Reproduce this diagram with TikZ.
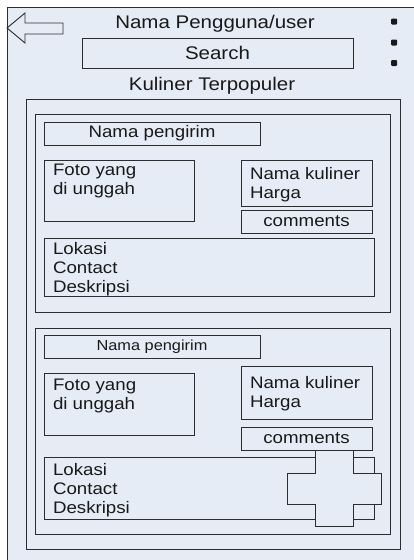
\documentclass[tikz,border=0pt]{standalone}
\usepackage{fontspec}
\setmainfont{Liberation Sans}[FakeStretch=1.12]
\usetikzlibrary{positioning}
\definecolor{screenBg}{RGB}{230,236,246}
\definecolor{lineGray}{RGB}{45,45,45}

\begin{document}
\begin{tikzpicture}[
    x = 1pt,
    y = -1pt,
    line width = 0.9pt,
    every node/.style = {inner sep = 0pt, outer sep = 0pt, text = black!90},
    box/.style = {rectangle, draw = lineGray, anchor = north west},
    boxtext/.style = {anchor = north west, align = left, font = \fontsize{16.7}{19}\selectfont},
    cardfont/.style = {font = \fontsize{16.7}{19}\selectfont},
    title/.style = {anchor = base, font = \fontsize{18.3}{22}\selectfont},
    dot/.style = {rectangle, fill = black!90, minimum size = 6pt, rounded corners = 1pt}
  ]
    \useasboundingbox (0, 0) rectangle (414, 560);
    \fill[screenBg] (7, 7) rectangle (414, 560);
    \draw[lineGray] (7, 560) -- (7, 7) -- (414, 7);

    \filldraw[fill = screenBg, draw = lineGray] (7, 28) -- (25, 13) -- (25, 23) -- (63, 23)
      -- (63, 34) -- (25, 34) -- (25, 43) -- cycle;
    \node[title] (username) at (215, 28) {Nama Pengguna/user};
    \node[box, minimum width = 271, minimum height = 30, font = \fontsize{18.3}{22}\selectfont] (search) at (82, 38) {Search};
    \node[title] (popular) at (212, 90) {Kuliner Terpopuler};
    \node[dot] (menu_dot_a) at (394, 21.5) {};
    \node[dot] (menu_dot_b) at (394, 42.5) {};
    \node[dot] (menu_dot_c) at (394, 63) {};

    \node[box, minimum width = 374, minimum height = 450] (feed) at (26, 99) {};

    \node[box, minimum width = 355, minimum height = 198] (card_a) at (35, 114) {};
    \node[box, cardfont, minimum width = 216, minimum height = 23] (sender_a) at (44, 122) {Nama pengirim};
    \node[box, minimum width = 150, minimum height = 61] (photo_a) at (44, 160) {};
    \node[boxtext] (photo_a_text) at (53, 164) {Foto yang\\di unggah};
    \node[box, minimum width = 131, minimum height = 46] (dish_a) at (241, 160) {};
    \node[boxtext] (dish_a_text) at (250, 167.5) {Nama kuliner\\Harga};
    \node[box, cardfont, minimum width = 131, minimum height = 23] (comments_a) at (241, 210) {comments};
    \node[box, minimum width = 330, minimum height = 58] (info_a) at (44, 238) {};
    \node[boxtext] (info_a_text) at (53, 242) {Lokasi\\Contact\\Deskripsi};

    \node[box, minimum width = 355, minimum height = 206] (card_b) at (35, 328) {};
    \node[box, minimum width = 216, minimum height = 23, font = \fontsize{14.6}{18}\selectfont] (sender_b) at (44, 335) {Nama pengirim};
    \node[box, minimum width = 150, minimum height = 62] (photo_b) at (44, 373) {};
    \node[boxtext] (photo_b_text) at (53, 379.5) {Foto yang\\di unggah};
    \node[box, minimum width = 131, minimum height = 53] (dish_b) at (241, 366) {};
    \node[boxtext] (dish_b_text) at (250, 376.5) {Nama kuliner\\Harga};
    \node[box, cardfont, minimum width = 131, minimum height = 23] (comments_b) at (241, 427) {comments};
    \node[box, minimum width = 330, minimum height = 62] (info_b) at (44, 457) {};
    \node[boxtext] (info_b_text) at (53, 463.5) {Lokasi\\Contact\\Deskripsi};

    \filldraw[fill = screenBg, draw = lineGray] (315, 450) -- (353, 450) -- (353, 473) -- (381, 473)
      -- (381, 504) -- (353, 504) -- (353, 526) -- (315, 526) -- (315, 504) -- (287, 504)
      -- (287, 473) -- (315, 473) -- cycle;
  \end{tikzpicture}
\end{document}
